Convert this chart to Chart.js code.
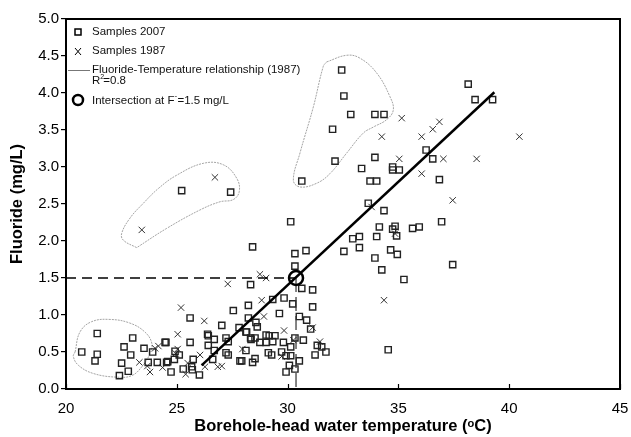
<!DOCTYPE html>
<html>
<head>
<meta charset="utf-8">
<script src="https://cdn.jsdelivr.net/npm/chart.js@4"></script>
<style>
html, body { margin: 0; padding: 0; background: #fff; }
</style>
</head>
<body>
<canvas id="chart" width="631" height="437"></canvas>
<script>
// Samples 2007 (squares)
const samples2007X = [
  20.71, 21.41, 21.41, 21.31, 22.41, 22.51, 22.81, 22.62, 22.92, 23.01, 23.52, 23.91, 23.71, 24.12, 24.51, 24.54,
  24.47, 24.59, 24.74, 24.89, 24.92, 25.11, 25.29, 25.60, 25.60, 25.67, 25.70, 25.74, 26.02, 26.39, 26.42, 26.42,
  26.62, 26.69, 26.69, 27.03, 27.22, 27.32, 27.22, 27.32, 27.55, 27.81, 27.93, 28.15, 28.33, 28.53, 28.42, 28.53,
  28.42, 28.33, 28.23, 29.33, 29.84, 30.23, 31.13, 29.63, 30.53, 30.86, 28.23, 28.57, 28.63, 28.12, 29.03, 29.17,
  29.43, 30.33, 30.71, 28.35, 28.75, 29.03, 29.33, 29.81, 30.14, 31.34, 31.54, 31.73, 31.24, 28.12, 29.13, 29.28,
  29.73, 29.93, 30.14, 27.85, 30.53, 30.08, 29.93, 30.33, 30.14, 30.33, 30.83, 30.33, 30.64, 31.13, 31.04,
  30.64, 32.14, 32.03, 32.85, 33.94, 34.35, 32.54, 32.44, 38.15, 38.46, 39.25, 33.94, 33.34, 34.74, 34.74, 35.04,
  36.25, 36.55, 33.72, 34.02, 36.85, 33.64, 34.35, 36.95, 34.14, 34.85, 34.74, 34.92, 35.64, 35.94, 33.24, 32.94,
  34.02, 33.24, 32.54, 34.65, 34.95, 33.94, 34.25, 35.25, 34.54, 37.45, 25.22, 27.43
];
const samples2007Y = [
  0.50, 0.75, 0.47, 0.38, 0.18, 0.35, 0.24, 0.57, 0.46, 0.69, 0.55, 0.50, 0.36, 0.36, 0.63, 0.36,
  0.63, 0.37, 0.23, 0.40, 0.51, 0.46, 0.27, 0.96, 0.63, 0.30, 0.26, 0.40, 0.19, 0.74, 0.72, 0.59,
  0.40, 0.67, 0.52, 0.86, 0.69, 0.64, 0.49, 0.46, 1.06, 0.83, 0.38, 0.77, 0.69, 0.69, 0.36, 0.41,
  1.92, 1.41, 1.13, 1.21, 1.23, 1.15, 1.11, 1.02, 0.98, 0.93, 0.96, 0.90, 0.84, 0.77, 0.73, 0.72,
  0.72, 0.69, 0.66, 0.67, 0.63, 0.63, 0.64, 0.63, 0.57, 0.59, 0.57, 0.50, 0.46, 0.52, 0.49, 0.46,
  0.50, 0.45, 0.45, 0.38, 0.38, 0.32, 0.23, 0.27, 2.26, 1.83, 1.87, 1.66, 1.36, 1.34, 0.81,
  2.81, 3.08, 3.51, 3.71, 3.71, 3.71, 3.96, 4.31, 4.12, 3.91, 3.91, 3.13, 2.98, 3.00, 2.96, 2.96,
  3.23, 3.11, 2.81, 2.81, 2.83, 2.51, 2.41, 2.26, 2.19, 2.20, 2.16, 2.07, 2.17, 2.19, 2.06, 2.03,
  2.06, 1.91, 1.86, 1.88, 1.82, 1.77, 1.61, 1.48, 0.53, 1.68, 2.68, 2.66
];

// Samples 1987 (crosses)
const samples1987X = [
  23.31, 23.67, 23.79, 24.02, 24.17, 24.36, 25.04, 25.04, 24.95, 25.19, 25.40, 25.49, 26.05, 26.24, 26.27, 26.85,
  27.03, 27.30, 27.96, 28.75, 29.03, 28.83, 28.93, 29.84, 30.26, 29.73, 31.46, 31.13, 23.42, 26.72, 35.15, 34.25,
  36.05, 36.55, 36.85, 35.04, 37.03, 38.53, 36.05, 37.45, 33.79, 34.85, 40.46, 34.35
];
const samples1987Y = [
  0.36, 0.31, 0.23, 0.55, 0.58, 0.29, 0.74, 0.54, 0.48, 1.10, 0.20, 0.35, 0.46, 0.92, 0.30, 0.30,
  0.31, 1.42, 0.54, 1.55, 1.50, 1.20, 0.98, 0.79, 0.66, 0.44, 0.64, 0.83, 2.15, 2.86, 3.66, 3.41,
  3.41, 3.51, 3.61, 3.11, 3.11, 3.11, 2.91, 2.55, 2.46, 2.10, 3.41, 1.20
];

// Fluoride-Temperature relationship (1987), end points of the drawn line
const fitX = [26.12, 39.33];
const fitY = [0.32, 4.01];

// Intersection at F- = 1.5 mg/L
const intersectX = [30.38];
const intersectY = [1.5];

// Outlined groups
const groupHighX = [31.76, 32.67, 33.27, 34.02, 34.62, 34.77, 34.47, 33.87, 33.42, 32.67, 31.91, 31.31, 30.56, 30.26, 30.56, 31.16, 31.61, 31.76];
const groupHighY = [4.42, 4.51, 4.47, 4.27, 3.95, 3.77, 3.64, 3.54, 3.46, 3.19, 2.91, 2.78, 2.73, 2.82, 3.19, 3.81, 4.36, 4.42];
const groupMidX = [23.19, 22.59, 22.51, 22.89, 23.49, 24.17, 25.00, 26.20, 27.10, 27.70, 27.82, 27.55, 26.95, 26.05, 24.54, 23.19];
const groupMidY = [1.91, 2.01, 2.10, 2.31, 2.51, 2.71, 2.89, 3.05, 3.03, 2.85, 2.67, 2.56, 2.53, 2.42, 2.17, 1.91];
const groupLowX = [20.41, 20.63, 21.16, 21.99, 22.89, 23.56, 23.87, 23.79, 23.42, 22.96, 22.29, 21.23, 20.56, 20.33, 20.41];
const groupLowY = [0.50, 0.77, 0.91, 0.94, 0.89, 0.77, 0.62, 0.48, 0.30, 0.18, 0.16, 0.21, 0.32, 0.44, 0.50];

// Axes
const xTicks = [20, 25, 30, 35, 40, 45];
const yMin = 0, yMax = 5, yStep = 0.5;

const FONT = '"Liberation Sans", Arial, sans-serif';
const toPoints = (xs, ys) => xs.map((x, i) => ({ x: x, y: ys[i] }));

const groupStyle = {
  showLine: true, pointRadius: 0, borderColor: '#9a9a9a', borderWidth: 0.9,
  borderDash: [2, 1], tension: 0.4, fill: false, order: 5
};

// frame, inside x ticks and the legend
const extras = {
  id: 'extras',
  afterDraw(chart) {
    const ctx = chart.ctx;
    const a = chart.chartArea;
    const xs = chart.scales.x;
    ctx.save();
    ctx.strokeStyle = '#000';
    ctx.lineWidth = 2;
    ctx.beginPath();
    ctx.moveTo(a.left, a.top);
    ctx.lineTo(a.right, a.top);
    ctx.lineTo(a.right, a.bottom);
    ctx.stroke();

    ctx.lineWidth = 1.2;
    xTicks.forEach(v => {
      const px = Math.round(xs.getPixelForValue(v)) + 0.5;
      ctx.beginPath();
      ctx.moveTo(px, a.bottom);
      ctx.lineTo(px, a.bottom - 5);
      ctx.stroke();
    });

    // legend
    const tx = 92;
    const big = '11.5px ' + FONT;
    ctx.fillStyle = '#111';
    ctx.font = big;
    ctx.textBaseline = 'middle';
    ctx.textAlign = 'left';

    ctx.lineWidth = 1.5;
    ctx.strokeRect(75, 29, 6, 6);
    ctx.fillText('Samples 2007', tx, 32);

    ctx.lineWidth = 1;
    ctx.beginPath();
    ctx.moveTo(75, 48); ctx.lineTo(81, 55);
    ctx.moveTo(81, 48); ctx.lineTo(75, 55);
    ctx.stroke();
    ctx.fillText('Samples 1987', tx, 51);

    ctx.strokeStyle = '#777';
    ctx.beginPath();
    ctx.moveTo(68, 70.5); ctx.lineTo(90, 70.5);
    ctx.stroke();
    ctx.fillText('Fluoride-Temperature relationship (1987)', tx, 70);
    ctx.fillText('R', tx, 81);
    let w = ctx.measureText('R').width;
    ctx.font = '7px ' + FONT;
    ctx.fillText('2', tx + w, 77);
    ctx.font = big;
    ctx.fillText('=0.8', tx + w + 3, 81);

    ctx.strokeStyle = '#000';
    ctx.lineWidth = 2.5;
    ctx.beginPath();
    ctx.arc(78, 100, 5, 0, Math.PI * 2);
    ctx.stroke();
    const t1 = 'Intersection at F';
    ctx.fillText(t1, tx, 101);
    w = ctx.measureText(t1).width;
    ctx.font = '8px ' + FONT;
    ctx.fillText('-', tx + w, 96);
    ctx.font = big;
    ctx.fillText('=1.5 mg/L', tx + w + 3, 101);
    ctx.restore();
  }
};

new Chart(document.getElementById('chart'), {
  type: 'scatter',
  data: {
    datasets: [
      Object.assign({ data: toPoints(groupHighX, groupHighY) }, groupStyle),
      Object.assign({ data: toPoints(groupMidX, groupMidY) }, groupStyle),
      Object.assign({ data: toPoints(groupLowX, groupLowY) }, groupStyle),
      {
        label: 'Samples 2007',
        data: toPoints(samples2007X, samples2007Y),
        pointStyle: 'rect', pointRadius: 4.4, borderColor: '#222', borderWidth: 1.4,
        backgroundColor: 'rgba(255,255,255,0)', order: 3
      },
      {
        label: 'Samples 1987',
        data: toPoints(samples1987X, samples1987Y),
        pointStyle: 'crossRot', pointRadius: 4.5, borderColor: '#333', borderWidth: 1, order: 3
      },
      {
        label: 'Fluoride-Temperature relationship (1987)',
        data: toPoints(fitX, fitY),
        showLine: true, pointRadius: 0, borderColor: '#000', borderWidth: 2.5, order: 2
      },
      {
        label: 'F- level',
        data: [{ x: xTicks[0], y: intersectY[0] }, { x: intersectX[0], y: intersectY[0] }],
        showLine: true, pointRadius: 0, borderColor: '#000', borderWidth: 1.5, borderDash: [10, 6], order: 2
      },
      {
        label: 'Temperature at intersection',
        data: [{ x: intersectX[0], y: intersectY[0] }, { x: intersectX[0], y: yMin }],
        showLine: true, pointRadius: 0, borderColor: '#333', borderWidth: 1.2, borderDash: [14, 5], order: 2
      },
      {
        label: 'Intersection at F-=1.5 mg/L',
        data: toPoints(intersectX, intersectY),
        pointStyle: 'circle', pointRadius: 7, borderColor: '#000', borderWidth: 2.5,
        backgroundColor: 'rgba(255,255,255,0)', order: 1
      }
    ]
  },
  options: {
    responsive: false,
    animation: false,
    layout: { padding: { top: 19, right: 11, left: 0, bottom: 0 } },
    plugins: { legend: { display: false }, tooltip: { enabled: false } },
    scales: {
      x: {
        type: 'linear', min: xTicks[0], max: xTicks[xTicks.length - 1],
        afterBuildTicks: s => { s.ticks = xTicks.map(v => ({ value: v })); },
        afterFit: s => { s.height = 48; },
        border: { color: '#000', width: 2 },
        grid: { drawOnChartArea: false, drawTicks: true, tickLength: 10, tickColor: 'rgba(0,0,0,0)' },
        ticks: { color: '#000', padding: 1, maxRotation: 0, font: { family: FONT, size: 15 } },
        title: {
          display: true, text: 'Borehole-head water temperature (ᵒC)', color: '#000',
          padding: { top: 0, bottom: 1 },
          font: { family: FONT, size: 16.5, weight: 'bold' }
        }
      },
      y: {
        type: 'linear', min: yMin, max: yMax,
        afterFit: s => { s.width = 66; },
        border: { color: '#000', width: 2 },
        grid: { drawOnChartArea: false, drawTicks: true, tickLength: 5, color: '#000', lineWidth: 1.2 },
        ticks: {
          stepSize: yStep, color: '#000', padding: 2,
          callback: v => v.toFixed(1),
          font: { family: FONT, size: 15 }
        },
        title: {
          display: true, text: 'Fluoride (mg/L)', color: '#000',
          padding: { top: 8, bottom: 0 },
          font: { family: FONT, size: 16.5, weight: 'bold' }
        }
      }
    }
  },
  plugins: [extras]
});
</script>
</body>
</html>
